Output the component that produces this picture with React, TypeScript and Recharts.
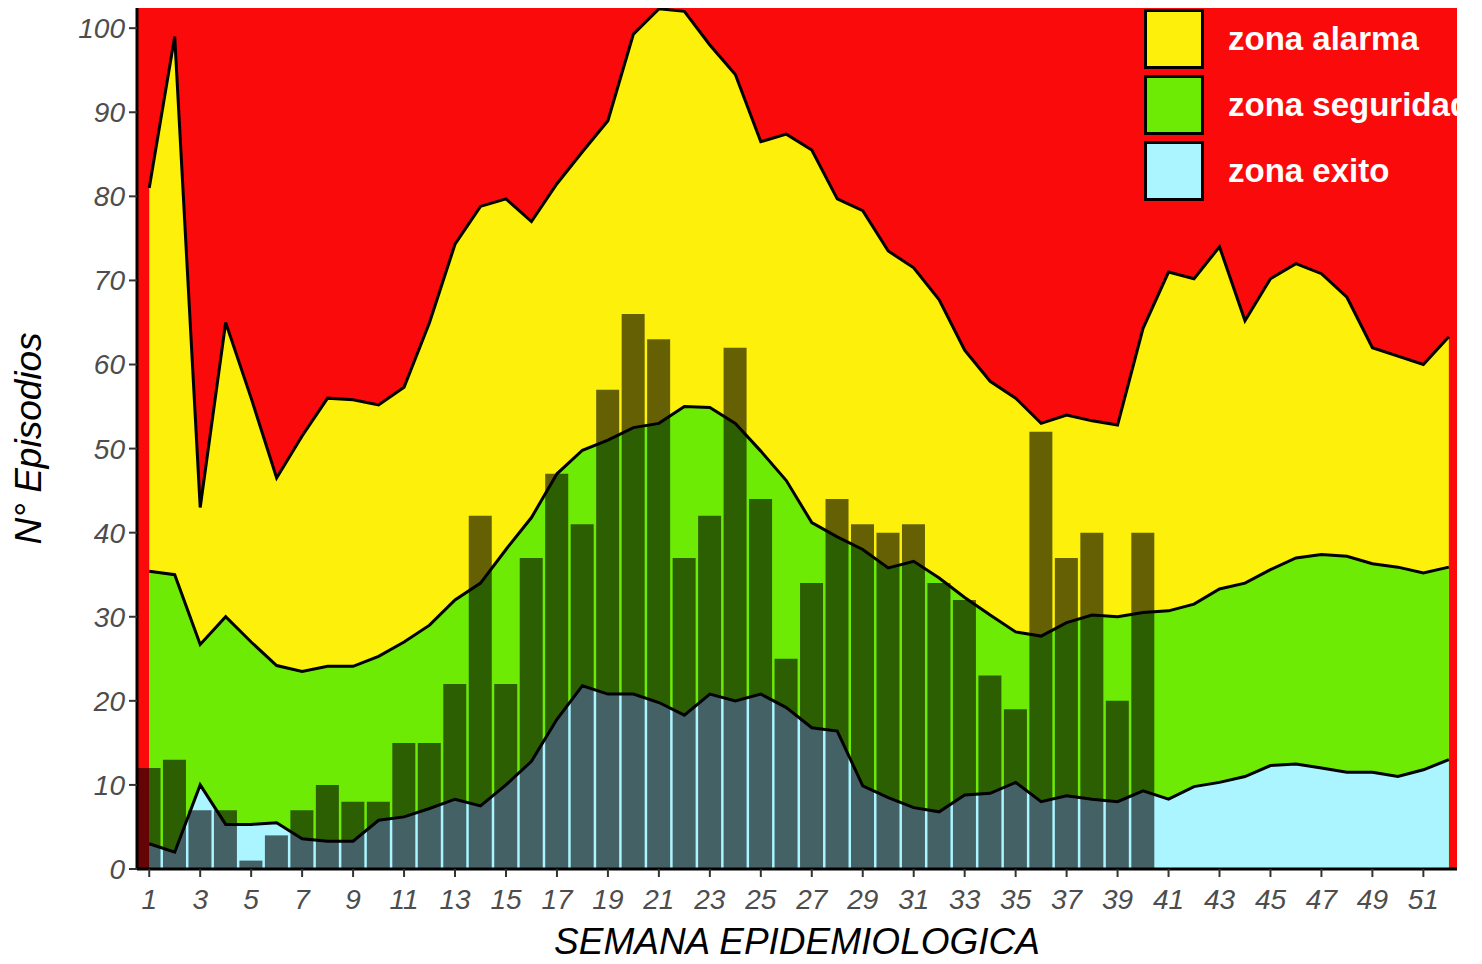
import { ComposedChart, Area, Bar, Line, XAxis, YAxis, CartesianGrid, Label } from "recharts";

const weeks = Array.from({ length: 52 }, (_, i) => i + 1);

const alarmaTop = [81, 99, 43, 65, 56, 46.5, 51.5, 56, 55.8, 55.2, 57.3, 65, 74.3, 78.8, 79.7, 77, 81.5, 85.3, 89, 99.3, 102.3, 102, 98, 94.5, 86.5, 87.4, 85.5, 79.7, 78.3, 73.5, 71.5, 67.7, 61.7, 58, 56, 53, 54, 53.3, 52.8, 64.3, 71, 70.2, 74, 65.2, 70.2, 72, 70.8, 68, 62, 61, 60, 63.3];
const seguridadTop = [35.4, 35, 26.7, 30, 27, 24.2, 23.5, 24.1, 24.1, 25.3, 27, 29, 32, 34, 38, 41.8, 47, 49.8, 51, 52.5, 53, 55, 54.9, 53, 49.7, 46.2, 41.2, 39.5, 38, 35.8, 36.6, 34.6, 32.3, 30.2, 28.2, 27.7, 29.3, 30.2, 30, 30.5, 30.7, 31.5, 33.3, 34, 35.6, 37, 37.4, 37.2, 36.3, 35.9, 35.2, 35.9];
const exitoTop = [3, 2, 10, 5.3, 5.3, 5.5, 3.6, 3.3, 3.3, 5.8, 6.2, 7.2, 8.3, 7.5, 10, 12.8, 17.8, 21.8, 20.8, 20.8, 19.8, 18.3, 20.8, 20, 20.8, 19.2, 16.8, 16.4, 9.9, 8.5, 7.3, 6.8, 8.8, 9, 10.3, 8, 8.7, 8.3, 8, 9.3, 8.3, 9.8, 10.3, 11, 12.3, 12.5, 12, 11.5, 11.5, 11, 11.8, 13];
const casos = [12, 13, 7, 7, 1, 4, 7, 10, 8, 8, 15, 15, 22, 42, 22, 37, 47, 41, 57, 66, 63, 37, 42, 62, 44, 25, 34, 44, 41, 40, 41, 34, 32, 23, 19, 52, 37, 40, 20, 40];

const xTicks = weeks.filter((w) => w % 2 === 1);
const yTicks = [0, 10, 20, 30, 40, 50, 60, 70, 80, 90, 100];

const data = weeks.map((w, i) => ({
  week: w,
  alarma: alarmaTop[i],
  seguridad: seguridadTop[i],
  exito: exitoTop[i],
  casos: casos[i],
}));

const font = "Liberation Sans, Arial";
const tickStyle = { fill: "#4d4d4d", fontSize: 28, fontStyle: "italic", fontFamily: font };

const legend = [
  { label: "zona alarma", color: "#FDF00A" },
  { label: "zona seguridad", color: "#6EEB05" },
  { label: "zona exito", color: "#AAF5FF" },
];

const App = () => {
  return (
    <div style={{ position: "absolute", left: 0, top: 0, width: 1482, height: 964, background: "#fff" }}>
      <ComposedChart width={1482} height={964} data={data} margin={{ top: 8, right: 25, bottom: 0, left: 0 }}>
        <CartesianGrid fill="#FA0A0A" stroke="none" horizontal={false} vertical={false} />
        <XAxis
          dataKey="week"
          type="number"
          domain={[0.52, 52.32]}
          ticks={xTicks}
          height={95}
          tick={tickStyle}
          tickLine={{ stroke: "#333", strokeWidth: 2 }}
          tickSize={8}
          tickMargin={12}
          axisLine={{ stroke: "#000", strokeWidth: 3 }}
          interval={0}
        >
          <Label value="SEMANA EPIDEMIOLOGICA" position="insideBottom" offset={10} style={{ fill: "#000", fontSize: 37, fontStyle: "italic", fontFamily: font }} />
        </XAxis>
        <YAxis
          type="number"
          domain={[0, 102.4]}
          ticks={yTicks}
          width={137}
          tick={tickStyle}
          tickLine={{ stroke: "#333", strokeWidth: 2 }}
          tickSize={8}
          tickMargin={4}
          axisLine={{ stroke: "#000", strokeWidth: 3 }}
          allowDataOverflow
        >
          <Label value="N° Episodios" angle={-90} position="insideLeft" offset={28} style={{ fill: "#000", fontSize: 37, fontStyle: "italic", fontFamily: font, textAnchor: "middle" }} />
        </YAxis>
        <Area type="linear" dataKey="alarma" fill="#FDF00A" fillOpacity={1} stroke="none" isAnimationActive={false} />
        <Area type="linear" dataKey="seguridad" fill="#6EEB05" fillOpacity={1} stroke="none" isAnimationActive={false} />
        <Area type="linear" dataKey="exito" fill="#AAF5FF" fillOpacity={1} stroke="none" isAnimationActive={false} />
        <Bar dataKey="casos" barSize={23} fill="#000" fillOpacity={0.6} isAnimationActive={false} />
        <Line type="linear" dataKey="alarma" stroke="#000" strokeWidth={3} dot={false} isAnimationActive={false} />
        <Line type="linear" dataKey="seguridad" stroke="#000" strokeWidth={3} dot={false} isAnimationActive={false} />
        <Line type="linear" dataKey="exito" stroke="#000" strokeWidth={3} dot={false} isAnimationActive={false} />
      </ComposedChart>
      <div style={{ position: "absolute", left: 1144, top: 6, width: 313, height: 200, overflow: "hidden" }}>
        {legend.map((l, i) => (
          <div key={l.label} style={{ position: "absolute", left: 0, top: i * 66, height: 66, display: "flex", alignItems: "center", whiteSpace: "nowrap" }}>
            <div style={{ width: 60, height: 60, background: l.color, border: "3px solid #000", boxSizing: "border-box" }} />
            <span style={{ marginLeft: 24, color: "#fff", fontWeight: "bold", fontSize: 33, fontFamily: font }}>{l.label}</span>
          </div>
        ))}
      </div>
    </div>
  );
};

export default App;
